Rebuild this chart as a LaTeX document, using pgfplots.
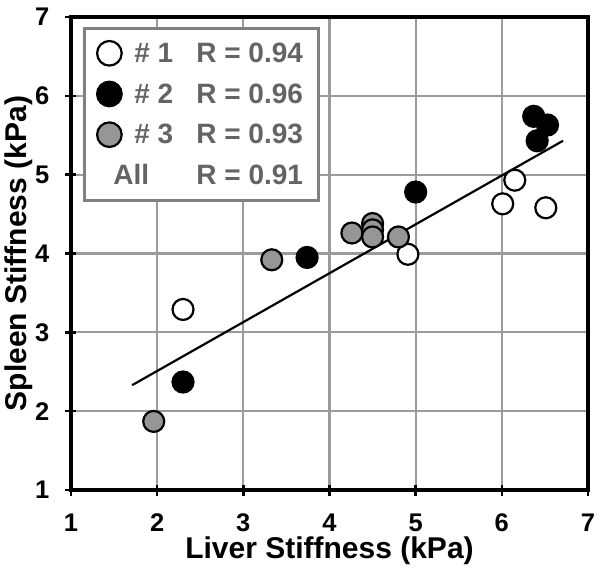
\documentclass[border=0pt]{standalone}
\usepackage{pgfplots}
\pgfplotsset{compat=1.18}
\usepackage{fontspec}
\setmainfont{Liberation Sans}
\definecolor{gridgray}{RGB}{155,155,155}
\definecolor{ptgray}{RGB}{150,150,150}
\definecolor{leggray}{RGB}{100,100,100}
\definecolor{legbox}{RGB}{128,128,128}
\begin{document}
\begin{tikzpicture}
\begin{axis}[
  scale only axis, width=517pt, height=473pt,
  xmin=1, xmax=7, ymin=1, ymax=7,
  xtick={1,...,7}, ytick={1,...,7},
  grid=major, major grid style={draw=gridgray, line width=2.2pt},
  axis line style={line width=3.5pt},
  tick pos=left, tick align=center, major tick length=11pt,
  tick style={black, line width=2.5pt},
  /pgf/number format/assume math mode=true,
  ticklabel style={font=\fontsize{25.5}{25.5}\selectfont\bfseries},
  xticklabel style={inner sep=0pt, yshift=-18pt},
  yticklabel style={inner sep=0pt, xshift=-16pt},
  label style={font=\fontsize{30}{30}\selectfont\bfseries, inner sep=0pt},
  xlabel={Liver Stiffness (kPa)},
  ylabel={Spleen Stiffness (kPa)},
  xlabel style={at={(axis description cs:0.5,-0.1285)}, anchor=center},
  ylabel style={at={(axis description cs:-0.1006,0.5)}, anchor=center},
  legend style={at={(0.023,0.979)}, anchor=north west, draw=legbox, line width=3pt,
    font=\fontsize{28}{28}\selectfont\bfseries, text=leggray, inner ysep=4.5pt,
    nodes={minimum height=40.7pt}},
  legend cell align=left,
  legend image code/.code={\path[draw=none,fill=none] (0pt,0pt) rectangle (45pt,0pt); \draw[#1, mark size=12.3pt] plot[only marks] coordinates {(22pt,0pt)};},
]
\addplot[only marks, mark=*, mark size=10.5pt, mark options={fill=white, draw=black, line width=2.2pt}]
  coordinates {(2.30,3.29) (4.91,3.99) (6.01,4.63) (6.15,4.93) (6.51,4.58)};
\addlegendentry{\makebox[62pt][l]{\# 1}\makebox[117pt][l]{R = 0.94}}
\addplot[only marks, mark=*, mark size=10.5pt, mark options={fill=black, draw=black, line width=2.2pt}]
  coordinates {(2.30,2.37) (3.74,3.95) (5.00,4.78) (6.37,5.74) (6.53,5.63) (6.41,5.43)};
\addlegendentry{\makebox[62pt][l]{\# 2}\makebox[117pt][l]{R = 0.96}}
\addplot[only marks, mark=*, mark size=10.5pt, mark options={fill=ptgray, draw=black, line width=2.2pt}]
  coordinates {(1.96,1.87) (3.33,3.92) (4.26,4.26) (4.50,4.38) (4.50,4.30) (4.50,4.21) (4.80,4.21)};
\addlegendentry{\makebox[62pt][l]{\# 3}\makebox[117pt][l]{R = 0.93}}
\addlegendimage{empty legend}
\addlegendentry{\hspace*{-21pt}\makebox[83pt][l]{All}\makebox[117pt][l]{R = 0.91}}
\addplot[black, line width=2.2pt, forget plot] coordinates {(1.71,2.33) (6.71,5.43)};
\end{axis}
\pgfresetboundingbox
\path[use as bounding box] ([shift={(-71pt,-80pt)}]current axis.south west) rectangle ([shift={(13pt,17pt)}]current axis.north east);
\end{tikzpicture}
\end{document}
